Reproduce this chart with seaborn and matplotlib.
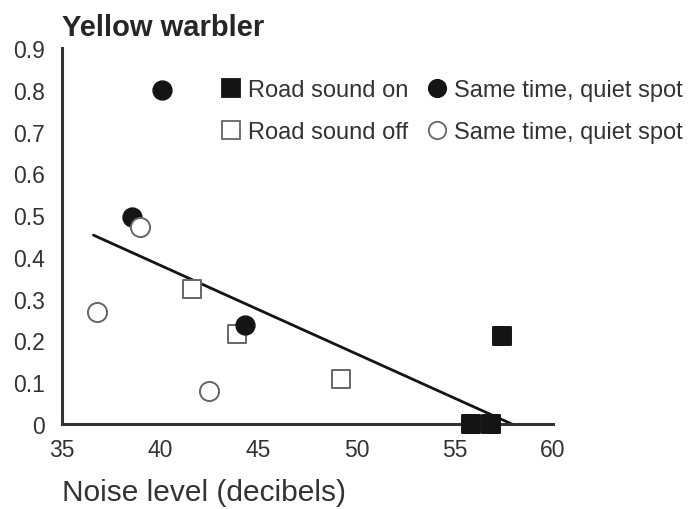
import matplotlib
matplotlib.use("Agg")
import matplotlib.pyplot as plt
import seaborn as sns
import pandas as pd
from matplotlib.lines import Line2D

# Song-change measurements for yellow warblers against noise level
road_on_x = [55.8, 56.85, 57.4]
road_on_y = [0.0, 0.0, 0.211]
road_off_x = [41.6, 43.9, 49.2]
road_off_y = [0.323, 0.215, 0.108]
quiet_on_x = [40.1, 38.55, 44.3]
quiet_on_y = [0.80, 0.495, 0.237]
quiet_off_x = [38.95, 36.8, 42.5]
quiet_off_y = [0.471, 0.268, 0.079]

# Fitted trend line endpoints
fit_x = [36.6, 57.9]
fit_y = [0.452, 0.0]

x_ticks = [35, 40, 45, 50, 55, 60]
y_ticks = [0, 0.1, 0.2, 0.3, 0.4, 0.5, 0.6, 0.7, 0.8, 0.9]
y_tick_labels = ["0", "0.1", "0.2", "0.3", "0.4", "0.5", "0.6", "0.7", "0.8", "0.9"]

sns.set_style("white")
plt.rcParams["font.family"] = ["Liberation Sans", "DejaVu Sans"]
text_color = "#333333"
dark = "#141414"
open_edge = "#666666"

fig = plt.figure(figsize=(6.97, 5.10), dpi=100)
ax = fig.add_axes([0.089, 0.1667, 0.7044, 0.7373])

groups = [
    ("Road sound on", road_on_x, road_on_y, "s", dark, dark, 175),
    ("Road sound off", road_off_x, road_off_y, "s", "white", open_edge, 185),
    ("Same time, quiet spot", quiet_on_x, quiet_on_y, "o", dark, dark, 175),
    ("Same time, quiet spot", quiet_off_x, quiet_off_y, "o", "white", open_edge, 190),
]

ax.plot(fit_x, fit_y, color=dark, lw=2.0, zorder=2, clip_on=False)

for label, xs, ys, mk, fc, ec, size in groups:
    df = pd.DataFrame({"x": xs, "y": ys})
    sns.scatterplot(data=df, x="x", y="y", marker=mk, s=size, color=fc,
                    edgecolor=ec, linewidth=1.4, ax=ax, zorder=3, clip_on=False)

ax.set_xlim(35, 60)
ax.set_ylim(0, 0.9)
ax.set_xticks(x_ticks)
ax.set_yticks(y_ticks)
ax.set_yticklabels(y_tick_labels)
ax.tick_params(axis="both", direction="out", length=5, width=1.8, colors="#333333",
               labelsize=16.5, labelcolor=text_color)
ax.tick_params(axis="y", pad=7)
ax.tick_params(axis="x", pad=5)
for side in ["top", "right"]:
    ax.spines[side].set_visible(False)
for side in ["left", "bottom"]:
    ax.spines[side].set_color("#333333")
    ax.spines[side].set_linewidth(2.2)

ax.set_xlabel("Noise level (decibels)", fontsize=21.5, color=text_color)
ax.xaxis.set_label_coords(0.0, -0.18)
ax.xaxis.label.set_horizontalalignment("left")
ax.xaxis.label.set_verticalalignment("center")
ax.set_ylabel("")

fig.text(0.089, 1 - 36 / 510, "Yellow warbler", fontsize=21, fontweight="bold",
         color="#262626", ha="left", va="baseline")

handles = []
labels = []
for label, xs, ys, mk, fc, ec, size in groups:
    handles.append(Line2D([], [], linestyle="none", marker=mk,
                          markersize=13 if mk == "s" else 12.5,
                          markerfacecolor=fc, markeredgecolor=ec, markeredgewidth=1.3))
    labels.append(label)

fig.legend(handles, labels, ncol=2, loc="upper left", bbox_to_anchor=(0.319, 0.843),
           frameon=False, fontsize=17, handlelength=0.75, handletextpad=0.34,
           columnspacing=0.85, labelspacing=0.85, labelcolor=text_color, borderpad=0,
           borderaxespad=0)

fig.savefig("out.png", dpi=100, facecolor="white")
